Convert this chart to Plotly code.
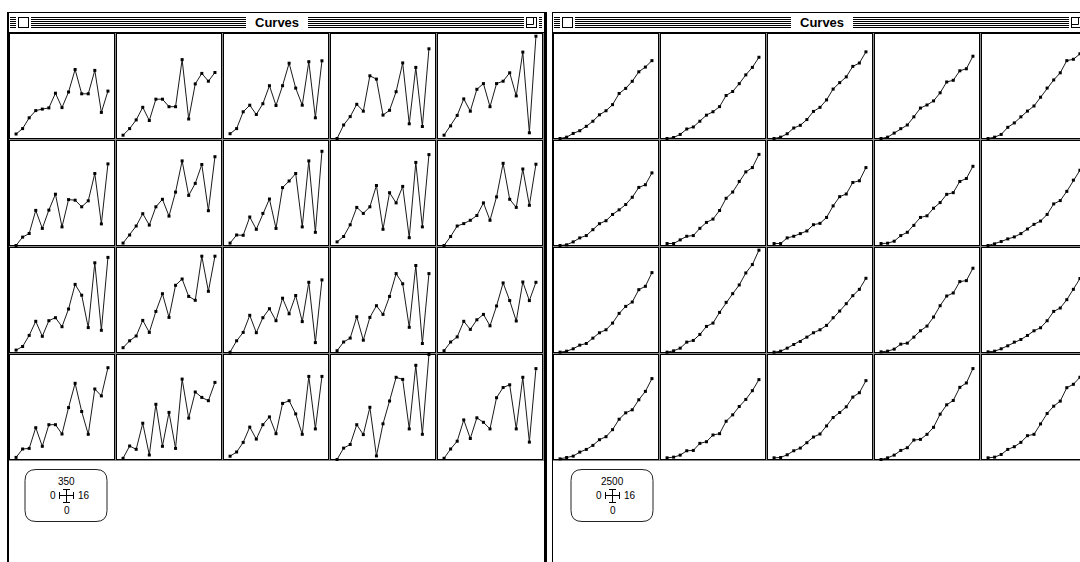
import plotly.graph_objects as go

W, H = 1080, 562

# sample index along each small curve and shared axis limits
steps = list(range(1, 16))
x_max = 16
left_ymax = 350
right_ymax = 2500

# left window: 4 rows x 5 columns of noisy series (0..350)
left_row1 = [
    [15, 33, 69, 93, 98, 102, 151, 103, 155, 230, 149, 149, 227, 87, 158],
    [11, 33, 62, 104, 60, 131, 131, 106, 106, 263, 65, 182, 217, 191, 220],
    [16, 33, 89, 111, 80, 116, 176, 110, 176, 251, 168, 111, 256, 69, 259],
    [0, 45, 73, 114, 91, 209, 198, 78, 94, 156, 252, 49, 237, 40, 299],
    [11, 42, 77, 132, 91, 164, 183, 106, 183, 191, 219, 142, 288, 19, 341],
]
left_row2 = [
    [0, 28, 40, 117, 57, 118, 171, 62, 153, 151, 129, 149, 240, 72, 272],
    [8, 35, 65, 106, 68, 129, 154, 98, 178, 282, 167, 207, 270, 116, 296],
    [8, 35, 34, 95, 54, 107, 155, 57, 193, 215, 240, 62, 282, 44, 314],
    [12, 30, 69, 127, 107, 129, 200, 54, 176, 142, 197, 26, 277, 62, 303],
    [0, 30, 65, 73, 84, 100, 142, 84, 162, 274, 154, 127, 255, 134, 271],
]
left_row3 = [
    [8, 20, 57, 104, 54, 106, 116, 86, 145, 227, 191, 83, 299, 74, 317],
    [16, 39, 55, 107, 67, 137, 196, 117, 224, 245, 187, 174, 321, 204, 321],
    [1, 39, 67, 124, 66, 116, 146, 106, 181, 129, 190, 103, 234, 33, 242],
    [6, 35, 48, 119, 41, 117, 156, 127, 187, 263, 229, 84, 290, 30, 263],
    [6, 35, 52, 104, 77, 109, 127, 89, 155, 232, 173, 105, 235, 173, 234],
]
left_row4 = [
    [7, 35, 37, 106, 44, 116, 116, 85, 173, 254, 160, 84, 235, 212, 306],
    [4, 45, 34, 121, 15, 184, 44, 157, 37, 268, 138, 225, 207, 196, 257],
    [11, 25, 57, 108, 68, 116, 142, 86, 187, 196, 152, 84, 277, 102, 277],
    [0, 38, 50, 116, 83, 174, 12, 119, 195, 274, 267, 102, 314, 84, 350],
    [4, 35, 61, 132, 70, 139, 124, 102, 206, 240, 249, 102, 274, 58, 303],
]

# right window: 4 rows x 5 columns of smooth rising series (0..2500)
right_row1 = [
    [0, 32, 121, 185, 290, 411, 564, 661, 806, 1072, 1193, 1362, 1588, 1701, 1854],
    [0, 24, 97, 226, 274, 411, 556, 637, 758, 1024, 1120, 1306, 1515, 1693, 1934],
    [0, 32, 113, 250, 314, 451, 645, 742, 919, 1177, 1330, 1467, 1717, 1797, 2063],
    [0, 32, 129, 234, 322, 516, 725, 798, 895, 1088, 1346, 1386, 1612, 1660, 1959],
    [0, 32, 97, 266, 371, 516, 653, 774, 983, 1201, 1394, 1564, 1854, 1886, 2015],
]
right_row2 = [
    [0, 16, 86, 181, 236, 377, 519, 590, 739, 849, 975, 1148, 1383, 1446, 1729],
    [47, 47, 134, 220, 236, 409, 550, 629, 833, 1124, 1273, 1525, 1753, 1855, 2169],
    [47, 47, 181, 220, 283, 346, 495, 527, 668, 943, 1163, 1226, 1501, 1541, 1855],
    [47, 55, 102, 236, 314, 479, 668, 707, 888, 1022, 1218, 1258, 1525, 1596, 1886],
    [0, 39, 94, 157, 204, 283, 393, 503, 582, 739, 990, 1069, 1289, 1556, 1792],
]
right_row3 = [
    [8, 32, 88, 175, 215, 342, 470, 541, 700, 931, 1098, 1202, 1496, 1576, 1902],
    [8, 40, 103, 247, 287, 430, 621, 700, 955, 1194, 1401, 1608, 1894, 2093, 2436],
    [8, 32, 103, 191, 263, 366, 470, 541, 645, 828, 987, 1162, 1353, 1504, 1767],
    [16, 32, 80, 199, 223, 366, 517, 629, 844, 1114, 1345, 1417, 1688, 1711, 2006],
    [16, 32, 88, 159, 247, 310, 406, 517, 589, 756, 979, 1059, 1258, 1504, 1759],
]
right_row4 = [
    [16, 48, 80, 176, 240, 336, 471, 543, 711, 959, 1111, 1183, 1422, 1622, 1926],
    [40, 56, 104, 208, 216, 384, 423, 583, 615, 911, 1063, 1262, 1430, 1638, 1902],
    [40, 48, 112, 208, 272, 400, 535, 607, 799, 999, 1119, 1254, 1486, 1590, 1878],
    [0, 40, 104, 216, 280, 463, 479, 599, 767, 1079, 1302, 1406, 1718, 1822, 2165],
    [40, 56, 120, 240, 304, 408, 567, 599, 847, 1095, 1270, 1390, 1710, 1790, 1958],
]

left_scale = ["350", "0", "16", "0"]
right_scale = ["2500", "0", "16", "0"]
window_title = "Curves"

BLACK = "#000000"
WHITE = "#ffffff"
GRAY = "#8a8a8a"
TITLE_FONT = "Liberation Sans"
SMALL_FONT = "Liberation Sans"


def fx(px):
    return px / W


def fy(py):
    return 1 - py / H


shapes = []
annotations = []
traces = []
layout_axes = {}


def block(x0, y0, x1, y1, fill):
    shapes.append(dict(type="rect", xref="paper", yref="paper",
                       x0=fx(x0), x1=fx(x1), y0=fy(y1), y1=fy(y0),
                       fillcolor=fill, line=dict(width=0), layer="below"))


def outline(x0, y0, x1, y1):
    block(x0, y0, x1, y1, BLACK)
    block(x0 + 1, y0 + 1, x1 - 1, y1 - 1, WHITE)


def rounded_box(x0, y0, x1, y1, r):
    X = lambda v: fx(v)
    Y = lambda v: fy(v)
    path = (f"M {X(x0 + r)},{Y(y0)} L {X(x1 - r)},{Y(y0)} "
            f"Q {X(x1)},{Y(y0)} {X(x1)},{Y(y0 + r)} L {X(x1)},{Y(y1 - r)} "
            f"Q {X(x1)},{Y(y1)} {X(x1 - r)},{Y(y1)} L {X(x0 + r)},{Y(y1)} "
            f"Q {X(x0)},{Y(y1)} {X(x0)},{Y(y1 - r)} L {X(x0)},{Y(y0 + r)} "
            f"Q {X(x0)},{Y(y0)} {X(x0 + r)},{Y(y0)} Z")
    shapes.append(dict(type="path", xref="paper", yref="paper", path=path,
                       fillcolor=WHITE, line=dict(color="#222222", width=1),
                       layer="below"))


def text(px, py, s, size, bold=False, family=SMALL_FONT):
    annotations.append(dict(x=fx(px), y=fy(py), xref="paper", yref="paper",
                            text=f"<b>{s}</b>" if bold else s, showarrow=False,
                            xanchor="center", yanchor="middle",
                            font=dict(family=family, size=size, color=BLACK)))


axis_counter = [0]


def window(outer_l, inner_l, inner_r, outer_r, rows, ymax, scale_labels, key_x0):
    # frame
    block(outer_l, 12, outer_r, H + 5, BLACK)
    block(inner_l, 13, inner_r, H + 5, WHITE)
    # title bar stripes
    for k in range(6):
        y = 17 + 2 * k
        block(inner_l + 1, y, inner_r - 2, y + 1, BLACK)
    block(inner_l, 32, inner_r, 33, BLACK)
    # close box
    cl = inner_l + 9
    block(cl - 2, 15, cl + 13, 30, WHITE)
    outline(cl, 17, cl + 11, 28)
    # zoom box
    zr = inner_r - 18
    block(zr - 2, 15, zr + 13, 30, WHITE)
    outline(zr, 17, zr + 11, 28)
    shapes.append(dict(type="rect", xref="paper", yref="paper",
                       x0=fx(zr + 0.5), x1=fx(zr + 7.5), y0=fy(24.5), y1=fy(17.5),
                       fillcolor="rgba(0,0,0,0)", line=dict(width=1, color=BLACK),
                       layer="below"))
    # title
    cx = (outer_l + outer_r) / 2
    block(cx - 31, 14, cx + 31, 31, WHITE)
    text(cx, 22.5, window_title, 13, bold=True, family=TITLE_FONT)

    # grid of small plots
    block(inner_l, 33, inner_l + 535, 461, GRAY)
    for r, row in enumerate(rows):
        for c, series in enumerate(row):
            L = inner_l + 107 * c
            T = 33 + 107 * r
            block(L, T, L + 106, T + 106, BLACK)
            block(L + 1, T + 1, L + 105, T + 105, WHITE)
            axis_counter[0] += 1
            i = axis_counter[0]
            px0, px1 = L + 0.5, L + 105.5
            xr = x_max
            if px1 > W:
                xr = x_max * (W - px0) / (px1 - px0)
                px1 = W
            sfx = "" if i == 1 else str(i)
            layout_axes[f"xaxis{sfx}"] = dict(domain=[fx(px0), fx(px1)], range=[0, xr],
                                             visible=False, fixedrange=True,
                                             anchor=f"y{sfx}")
            layout_axes[f"yaxis{sfx}"] = dict(domain=[fy(T + 105.5), fy(T + 0.5)],
                                             range=[0, ymax], visible=False,
                                             fixedrange=True, anchor=f"x{sfx}")
            traces.append(go.Scatter(
                x=steps, y=series, xaxis=f"x{sfx}", yaxis=f"y{sfx}",
                mode="lines+markers", cliponaxis=False, hoverinfo="skip",
                line=dict(color="#1a1a1a", width=1),
                marker=dict(symbol="square", size=3, color=BLACK,
                            line=dict(width=0)),
                showlegend=False))

    # scale key
    rounded_box(key_x0, 469.5, key_x0 + 82, 521.5, 11)
    kc = key_x0 + 41
    text(kc + 0.5, 481, scale_labels[0], 10)
    text(kc - 13, 495.5, scale_labels[1], 10)
    text(kc + 18, 495.5, scale_labels[2], 10)
    text(kc + 0.5, 510, scale_labels[3], 10)
    block(kc - 7, 495, kc + 8, 496, BLACK)
    block(kc - 7, 492, kc - 6, 499, BLACK)
    block(kc + 7, 492, kc + 8, 499, BLACK)
    block(kc, 489, kc + 1, 503, BLACK)
    block(kc - 3, 489, kc + 4, 490, BLACK)
    block(kc - 3, 502, kc + 4, 503, BLACK)


window(7, 9, 544, 547, [left_row1, left_row2, left_row3, left_row4],
       left_ymax, left_scale, 25)
window(552, 553, 1089, 1092, [right_row1, right_row2, right_row3, right_row4],
       right_ymax, right_scale, 571)

fig = go.Figure(data=traces)
fig.update_layout(
    width=W, height=H,
    margin=dict(l=0, r=0, t=0, b=0),
    paper_bgcolor=WHITE,
    plot_bgcolor="rgba(0,0,0,0)",
    shapes=shapes,
    annotations=annotations,
    showlegend=False,
    **layout_axes,
)
fig.write_html("out.html", config={"displayModeBar": False})
